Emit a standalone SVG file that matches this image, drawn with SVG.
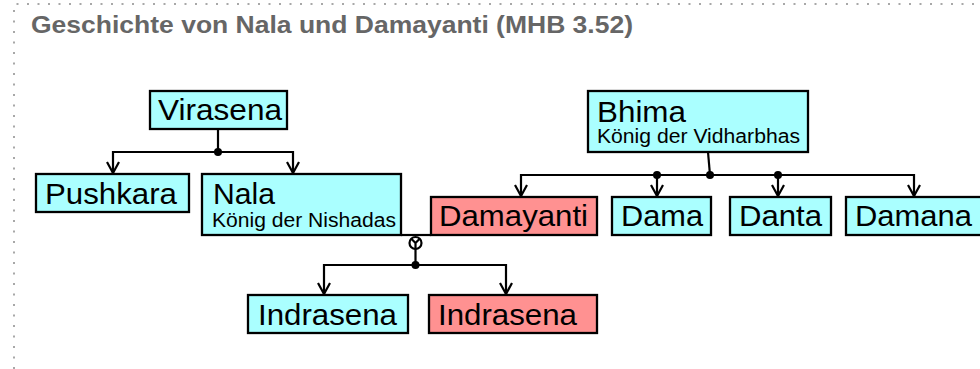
<svg xmlns="http://www.w3.org/2000/svg" width="980" height="369" viewBox="0 0 980 369">
<defs>
<style>
.bg{fill:#ffffff}
.frame{fill:none;stroke:#a8a8a8;stroke-width:2;stroke-dasharray:2 8.5}
.title{font-family:"Liberation Sans",Arial,sans-serif;font-weight:bold;font-size:24px;fill:#666666}
.box{stroke:#000;stroke-width:2.3}
.m{fill:#aaffff}
.f{fill:#ff9191}
.t{font-family:"Liberation Sans",Arial,sans-serif;font-size:30px;fill:#000}
.s{font-family:"Liberation Sans",Arial,sans-serif;font-size:19.5px;fill:#000}
.ln{fill:none;stroke:#000;stroke-width:2.2}
.dot{fill:#000}
</style>
<marker id="arr" viewBox="-1 -8 14 16" refX="11" refY="0" markerWidth="14" markerHeight="16" markerUnits="userSpaceOnUse" orient="auto">
<path d="M0,-6 L11,0 L0,6" fill="none" stroke="#000" stroke-width="2.2"/>
</marker>
</defs>
<rect class="bg" x="0" y="0" width="980" height="369"/>
<path class="frame" d="M14,369 L14,4 L980,4"/>
<text class="title" x="31" y="33" textLength="602" lengthAdjust="spacingAndGlyphs">Geschichte von Nala und Damayanti (MHB 3.52)</text>

<g id="connectors">
<path class="ln" d="M218,129 L218,152"/>
<path class="ln" d="M218,152 L113,152 L113,173" marker-end="url(#arr)"/>
<path class="ln" d="M218,152 L293,152 L293,173" marker-end="url(#arr)"/>
<circle class="dot" cx="218" cy="152" r="4"/>

<path class="ln" d="M708,152 L710,175"/>
<path class="ln" d="M710,175 L521,175 L521,196" marker-end="url(#arr)"/>
<path class="ln" d="M657,175 L657,196" marker-end="url(#arr)"/>
<path class="ln" d="M710,175 L914,175 L914,196" marker-end="url(#arr)"/>
<path class="ln" d="M778,175 L778,196" marker-end="url(#arr)"/>
<circle class="dot" cx="710" cy="175" r="4"/>
<circle class="dot" cx="657" cy="175" r="4"/>
<circle class="dot" cx="778" cy="175" r="4"/>

<path class="ln" d="M401,235 L431,235"/>
<circle class="ln" cx="415.5" cy="243" r="6"/>
<path class="ln" d="M411.3,238.8 L415.5,243 L419.7,238.8 M415.5,243 L415.5,265"/>
<circle class="dot" cx="415.5" cy="265" r="4"/>
<path class="ln" d="M415.5,265 L324,265 L324,294" marker-end="url(#arr)"/>
<path class="ln" d="M415.5,265 L506,265 L506,294" marker-end="url(#arr)"/>
</g>

<g id="virasena">
<rect class="box m" x="150" y="91" width="137" height="38"/>
<text class="t" x="158" y="120" textLength="124" lengthAdjust="spacingAndGlyphs">Virasena</text>
</g>
<g id="pushkara">
<rect class="box m" x="36" y="174" width="153" height="38"/>
<text class="t" x="45" y="204" textLength="132" lengthAdjust="spacingAndGlyphs">Pushkara</text>
</g>
<g id="nala">
<rect class="box m" x="202" y="174" width="199" height="61"/>
<text class="t" x="213" y="204" textLength="62" lengthAdjust="spacingAndGlyphs">Nala</text>
<text class="s" x="212" y="227" textLength="184" lengthAdjust="spacingAndGlyphs">König der Nishadas</text>
</g>
<g id="bhima">
<rect class="box m" x="588" y="91" width="220" height="61"/>
<text class="t" x="597" y="122" textLength="89" lengthAdjust="spacingAndGlyphs">Bhima</text>
<text class="s" x="597" y="143" textLength="203" lengthAdjust="spacingAndGlyphs">König der Vidharbhas</text>
</g>
<g id="damayanti">
<rect class="box f" x="431" y="197" width="166" height="38"/>
<text class="t" x="439" y="226" textLength="149" lengthAdjust="spacingAndGlyphs">Damayanti</text>
</g>
<g id="dama">
<rect class="box m" x="612" y="197" width="99" height="38"/>
<text class="t" x="621" y="226" textLength="82" lengthAdjust="spacingAndGlyphs">Dama</text>
</g>
<g id="danta">
<rect class="box m" x="730" y="197" width="101" height="38"/>
<text class="t" x="739" y="226" textLength="83" lengthAdjust="spacingAndGlyphs">Danta</text>
</g>
<g id="damana">
<rect class="box m" x="846" y="197" width="140" height="38"/>
<text class="t" x="855" y="226" textLength="117" lengthAdjust="spacingAndGlyphs">Damana</text>
</g>
<g id="indrasena1">
<rect class="box m" x="248" y="295" width="160" height="38"/>
<text class="t" x="258" y="325" textLength="139" lengthAdjust="spacingAndGlyphs">Indrasena</text>
</g>
<g id="indrasena2">
<rect class="box f" x="429" y="295" width="168" height="38"/>
<text class="t" x="438" y="325" textLength="139" lengthAdjust="spacingAndGlyphs">Indrasena</text>
</g>
</svg>
